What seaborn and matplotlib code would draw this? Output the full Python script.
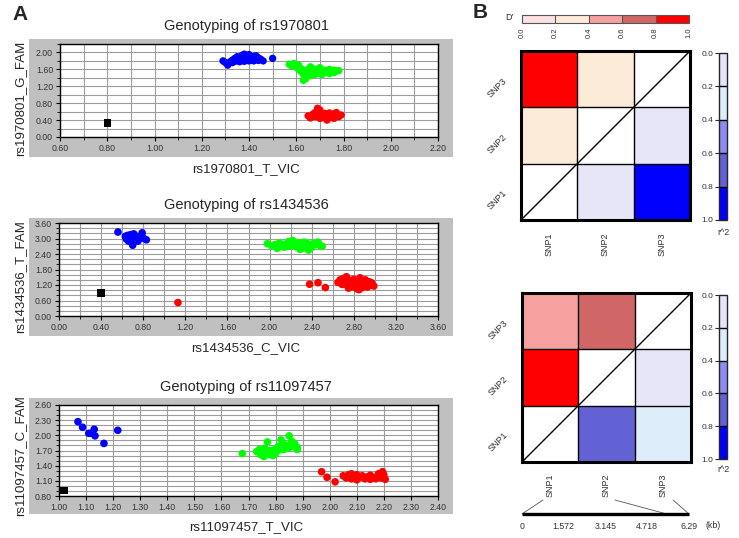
import numpy as np
import pandas as pd
import matplotlib
matplotlib.use("Agg")
import matplotlib.pyplot as plt
import seaborn as sns
from matplotlib.colors import ListedColormap, Normalize
from matplotlib.patches import Rectangle
from matplotlib.ticker import MultipleLocator, FormatStrFormatter
import matplotlib.cm as cm

# ---------------- data: allelic discrimination plots ----------------
# rs1970801
blue1_x = [1.29, 1.30, 1.31, 1.32, 1.33, 1.33, 1.34, 1.34, 1.35, 1.35, 1.36, 1.36, 1.37, 1.37, 1.38, 1.38,
           1.38, 1.39, 1.39, 1.40, 1.40, 1.41, 1.41, 1.42, 1.42, 1.43, 1.43, 1.44, 1.44, 1.45, 1.46, 1.50]
blue1_y = [1.80, 1.76, 1.70, 1.78, 1.82, 1.76, 1.86, 1.79, 1.90, 1.81, 1.85, 1.78, 1.93, 1.82, 1.96, 1.87,
           1.79, 1.92, 1.83, 1.95, 1.80, 1.88, 1.82, 1.91, 1.80, 1.86, 1.92, 1.81, 1.87, 1.84, 1.80, 1.86]
green1_x = [1.57, 1.58, 1.59, 1.60, 1.61, 1.61, 1.62, 1.62, 1.63, 1.63, 1.64, 1.64, 1.65, 1.65, 1.66, 1.66,
            1.67, 1.67, 1.68, 1.68, 1.69, 1.69, 1.70, 1.70, 1.71, 1.71, 1.72, 1.72, 1.73, 1.74, 1.74, 1.75,
            1.76, 1.76, 1.77, 1.78, 1.63, 1.66]
green1_y = [1.72, 1.68, 1.74, 1.65, 1.70, 1.60, 1.62, 1.55, 1.58, 1.48, 1.52, 1.38, 1.60, 1.50, 1.56, 1.45,
            1.62, 1.52, 1.58, 1.48, 1.55, 1.60, 1.50, 1.64, 1.54, 1.48, 1.58, 1.52, 1.55, 1.50, 1.60, 1.54,
            1.52, 1.58, 1.56, 1.57, 1.34, 1.66]
red1_x = [1.65, 1.66, 1.67, 1.68, 1.68, 1.69, 1.69, 1.70, 1.70, 1.71, 1.71, 1.72, 1.72, 1.73, 1.73, 1.74,
          1.74, 1.75, 1.75, 1.76, 1.76, 1.77, 1.77, 1.78, 1.79, 1.70, 1.73]
red1_y = [0.50, 0.45, 0.54, 0.48, 0.58, 0.68, 0.50, 0.60, 0.44, 0.52, 0.46, 0.56, 0.48, 0.53, 0.42, 0.50,
          0.57, 0.46, 0.52, 0.55, 0.44, 0.50, 0.58, 0.48, 0.52, 0.64, 0.40]
ntc1_x = [0.80]
ntc1_y = [0.33]

# rs1434536
blue2_x = [0.56, 0.63, 0.64, 0.65, 0.66, 0.67, 0.68, 0.69, 0.70, 0.70, 0.71, 0.72, 0.74, 0.75, 0.77, 0.79, 0.80, 0.83]
blue2_y = [3.25, 3.08, 2.98, 3.12, 2.90, 3.02, 3.15, 2.85, 3.05, 2.74, 3.18, 2.95, 3.08, 2.90, 3.00, 3.22, 3.02, 2.95]
green2_x = [1.98, 2.02, 2.05, 2.07, 2.09, 2.10, 2.12, 2.14, 2.16, 2.18, 2.19, 2.21, 2.22, 2.24, 2.25, 2.27,
            2.28, 2.30, 2.31, 2.33, 2.34, 2.36, 2.37, 2.38, 2.40, 2.42, 2.44, 2.46, 2.48, 2.50, 2.29, 2.35]
green2_y = [2.80, 2.72, 2.76, 2.62, 2.82, 2.70, 2.78, 2.66, 2.74, 2.88, 2.70, 2.80, 2.92, 2.76, 2.68, 2.84,
            2.72, 2.78, 2.62, 2.86, 2.70, 2.80, 2.55, 2.74, 2.66, 2.82, 2.76, 2.86, 2.72, 2.70, 2.58, 2.64]
red2_x = [1.13, 2.38, 2.46, 2.53, 2.65, 2.67, 2.69, 2.70, 2.72, 2.73, 2.74, 2.76, 2.77, 2.78, 2.80, 2.81,
          2.82, 2.83, 2.84, 2.85, 2.86, 2.87, 2.88, 2.89, 2.90, 2.91, 2.92, 2.93, 2.95, 2.96, 2.97, 2.99, 2.75, 2.85]
red2_y = [0.52, 1.23, 1.29, 1.10, 1.30, 1.40, 1.22, 1.45, 1.32, 1.52, 1.18, 1.38, 1.25, 1.12, 1.42, 1.20,
          1.30, 1.05, 1.15, 1.35, 1.48, 1.22, 1.10, 1.30, 1.18, 1.40, 1.25, 1.12, 1.32, 1.20, 1.28, 1.16, 1.08, 1.02]
ntc2_x = [0.40]
ntc2_y = [0.90]

# rs11097457
blue3_x = [1.07, 1.087, 1.11, 1.12, 1.13, 1.133, 1.166, 1.217]
blue3_y = [2.27, 2.16, 2.04, 2.04, 2.12, 1.99, 1.84, 2.10]
green3_x = [1.677, 1.73, 1.74, 1.745, 1.75, 1.757, 1.76, 1.77, 1.77, 1.78, 1.78, 1.79, 1.80, 1.80, 1.81,
            1.81, 1.82, 1.82, 1.83, 1.83, 1.84, 1.84, 1.85, 1.85, 1.86, 1.86, 1.87, 1.88, 1.88, 1.79]
green3_y = [1.64, 1.68, 1.72, 1.62, 1.66, 1.58, 1.74, 1.87, 1.65, 1.70, 1.62, 1.68, 1.74, 1.64, 1.78,
            1.70, 1.91, 1.75, 1.84, 1.72, 1.80, 1.74, 1.99, 1.76, 1.88, 1.78, 1.84, 1.72, 1.76, 1.60]
red3_x = [1.97, 1.99, 2.02, 2.05, 2.06, 2.07, 2.08, 2.08, 2.09, 2.10, 2.10, 2.11, 2.12, 2.13, 2.14, 2.15,
          2.15, 2.16, 2.17, 2.18, 2.18, 2.19, 2.195, 2.20, 2.205, 2.07]
red3_y = [1.28, 1.17, 1.08, 1.20, 1.16, 1.22, 1.14, 1.24, 1.19, 1.12, 1.22, 1.17, 1.20, 1.14, 1.18, 1.21,
          1.13, 1.17, 1.14, 1.20, 1.24, 1.16, 1.28, 1.22, 1.13, 1.18]
ntc3_x = [1.018]
ntc3_y = [0.905]

# ---------------- data: LD blocks ----------------
snps = ["SNP1", "SNP2", "SNP3"]
pairs = [(1, 2), (1, 3), (2, 3)]
dprime_top = [0.3, 0.9, 0.3]
r2_top = [0.1, 0.9, 0.1]
dprime_bottom = [0.9, 0.5, 0.7]
r2_bottom = [0.7, 0.3, 0.1]
snp_pos_kb = [0.0, 5.45, 6.29]
kb_ticks = [0, 1.572, 3.145, 4.718, 6.29]
kb_labels = ["0", "1.572", "3.145", "4.718", "6.29"]

dprime_colors = ["#fce2e2", "#fdebd9", "#f6a0a0", "#d06666", "#ff0000"]
r2_colors = ["#e6e6f8", "#ddeefa", "#8c8cf4", "#6262d4", "#0000ff"]

# ---------------- figure ----------------
sns.set_style("white")
plt.rcParams["font.family"] = ["Liberation Sans", "DejaVu Sans"]

W, H = 739, 538
fig = plt.figure(figsize=(W / 100, H / 100), dpi=100)


def box(l, t, r, b):
    return [l / W, 1 - b / H, (r - l) / W, (b - t) / H]


def ftext(x, y, s, **kw):
    fig.text(x / W, 1 - y / H, s, **kw)


palette = {"FAM": "#0000ff", "HET": "#00ff00", "VIC": "#ff0000", "NTC": "#000000"}
markers = {"FAM": "o", "HET": "o", "VIC": "o", "NTC": "s"}

scatter_specs = [
    dict(title="Genotyping of rs1970801", xlabel="rs1970801_T_VIC", ylabel="rs1970801_G_FAM",
         groups=[("FAM", blue1_x, blue1_y), ("HET", green1_x, green1_y), ("VIC", red1_x, red1_y),
                 ("NTC", ntc1_x, ntc1_y)],
         xlim=(0.6, 2.2), xmaj=0.2, xmin=0.1, ylim=(0, 2.2), ymaj=0.4, ymin=0.2, ymaxlab=2.0,
         ax=(60, 44, 438, 137), frame=(29, 39, 453, 157), ty=26, xy=169, s=28),
    dict(title="Genotyping of rs1434536", xlabel="rs1434536_C_VIC", ylabel="rs1434536_T_FAM",
         groups=[("FAM", blue2_x, blue2_y), ("HET", green2_x, green2_y), ("VIC", red2_x, red2_y),
                 ("NTC", ntc2_x, ntc2_y)],
         xlim=(0, 3.6), xmaj=0.4, xmin=0.2, ylim=(0, 3.6), ymaj=0.6, ymin=0.2, ymaxlab=3.6,
         ax=(59, 223, 438, 316), frame=(29, 218, 453, 336), ty=205, xy=348, s=30),
    dict(title="Genotyping of rs11097457", xlabel="rs11097457_T_VIC", ylabel="rs11097457_C_FAM",
         groups=[("FAM", blue3_x, blue3_y), ("HET", green3_x, green3_y), ("VIC", red3_x, red3_y),
                 ("NTC", ntc3_x, ntc3_y)],
         xlim=(1.0, 2.4), xmaj=0.1, xmin=0.1, ylim=(0.8, 2.6), ymaj=0.3, ymin=0.1, ymaxlab=2.6,
         ax=(59, 405, 438, 496), frame=(29, 398, 453, 514), ty=387, xy=527, s=30),
]

for spec in scatter_specs:
    l, t, r, b = spec["frame"]
    fig.add_artist(Rectangle((l / W, 1 - b / H), (r - l) / W, (b - t) / H,
                             transform=fig.transFigure, facecolor="#c0c0c0", edgecolor="none", zorder=-5))
    ax = fig.add_axes(box(*spec["ax"]))
    df = pd.concat([pd.DataFrame({"x": xs, "y": ys, "call": c}) for c, xs, ys in spec["groups"]],
                   ignore_index=True)
    sns.scatterplot(data=df, x="x", y="y", hue="call", style="call", palette=palette, markers=markers,
                    s=spec["s"], linewidth=0, legend=False, ax=ax, zorder=3)
    ax.set_facecolor("white")
    ax.set_xlim(*spec["xlim"])
    ax.set_ylim(*spec["ylim"])
    ax.xaxis.set_major_locator(MultipleLocator(spec["xmaj"]))
    ax.xaxis.set_minor_locator(MultipleLocator(spec["xmin"]))
    ax.set_yticks(np.arange(spec["ylim"][0], spec["ymaxlab"] + 1e-6, spec["ymaj"]))
    ax.yaxis.set_minor_locator(MultipleLocator(spec["ymin"]))
    ax.xaxis.set_major_formatter(FormatStrFormatter("%.2f"))
    ax.yaxis.set_major_formatter(FormatStrFormatter("%.2f"))
    ax.set_xlim(*spec["xlim"])
    ax.set_ylim(*spec["ylim"])
    ax.set_axisbelow(True)
    ax.grid(which="both", color="#9c9c9c", linewidth=0.8)
    for sp in ax.spines.values():
        sp.set_visible(True)
        sp.set_color("black")
        sp.set_linewidth(1.0)
    ax.tick_params(which="major", direction="out", length=3, width=0.8, color="black",
                   labelsize=6.3, labelcolor="#333333", pad=2, left=True, bottom=True)
    ax.tick_params(which="minor", direction="out", length=2, width=0.6, color="black",
                   left=True, bottom=True)
    ax.set_xlabel("")
    ax.set_ylabel("")
    cx = (spec["frame"][0] + spec["frame"][2]) / 2 + 5
    ftext(cx, spec["ty"], spec["title"], ha="center", va="center", fontsize=10.5)
    ftext(cx, spec["xy"], spec["xlabel"], ha="center", va="center", fontsize=9.5)
    ftext(20, (spec["frame"][1] + spec["frame"][3]) / 2, spec["ylabel"], ha="center", va="center",
          rotation=90, fontsize=9.5)

ftext(20, 14, "A", ha="center", va="center", fontsize=15, fontweight="bold")
ftext(480, 12, "B", ha="center", va="center", fontsize=15, fontweight="bold")

# ---------------- LD heatmaps ----------------
dcmap = ListedColormap(dprime_colors)
rcmap = ListedColormap(r2_colors)
rows = ["SNP3", "SNP2", "SNP1"]


def ld_frames(dvals, rvals):
    dmat = pd.DataFrame(np.nan, index=rows, columns=snps)
    rmat = pd.DataFrame(np.nan, index=rows, columns=snps)
    for (a, b), dv, rv in zip(pairs, dvals, rvals):
        dmat.loc[f"SNP{b}", f"SNP{a}"] = dv
        rmat.loc[f"SNP{a}", f"SNP{b}"] = rv
    return dmat, rmat


ld_specs = [
    dict(d=dprime_top, r=r2_top, ax=(521, 51, 690, 220), cax=(719, 53, 727, 220), r2y=232, xpad=9),
    dict(d=dprime_bottom, r=r2_bottom, ax=(522, 293, 691, 462), cax=(719, 295, 727, 459), r2y=470, xpad=8),
]

for spec in ld_specs:
    ax = fig.add_axes(box(*spec["ax"]))
    dmat, rmat = ld_frames(spec["d"], spec["r"])
    sns.heatmap(dmat, ax=ax, cmap=dcmap, vmin=0, vmax=1, cbar=False)
    sns.heatmap(rmat, ax=ax, cmap=rcmap, vmin=0, vmax=1, cbar=False)
    ax.set_facecolor("white")
    for k in (1, 2):
        ax.axhline(k, color="black", lw=1.0)
        ax.axvline(k, color="black", lw=1.0)
    ax.plot([0, 3], [3, 0], color="black", lw=1.0)
    for sp in ax.spines.values():
        sp.set_visible(True)
        sp.set_color("black")
        sp.set_linewidth(2.2)
    ax.tick_params(length=0, labelsize=6.5, labelcolor="#333333")
    ax.tick_params(axis="x", pad=spec["xpad"])
    ax.tick_params(axis="y", pad=11)
    ax.set_xticklabels(snps, rotation=90, va="top")
    ax.set_yticklabels(rows, rotation=45, ha="right", va="center", rotation_mode="anchor")
    ax.set_xlabel("")
    ax.set_ylabel("")

    cax = fig.add_axes(box(*spec["cax"]))
    cb = fig.colorbar(cm.ScalarMappable(norm=Normalize(0, 1), cmap=rcmap), cax=cax)
    cb.outline.set_linewidth(1.0)
    cb.set_ticks([0, 0.2, 0.4, 0.6, 0.8, 1.0])
    cb.set_ticklabels(["0.0", "0.2", "0.4", "0.6", "0.8", "1.0"])
    cax.invert_yaxis()
    for edge in (0.2, 0.4, 0.6, 0.8):
        cax.axhline(edge, color="black", lw=1.0)
    cax.yaxis.set_ticks_position("left")
    cax.tick_params(length=3, width=0.8, labelsize=6, labelcolor="#333333", pad=1)
    ftext(723, spec["r2y"], "r^2", ha="center", va="center", fontsize=6.5, color="#333333")

# D' colour key
dax = fig.add_axes(box(522, 15, 689, 23))
cb = fig.colorbar(cm.ScalarMappable(norm=Normalize(0, 1), cmap=dcmap), cax=dax, orientation="horizontal")
cb.outline.set_linewidth(0.8)
cb.outline.set_edgecolor("#555555")
for edge in (0.2, 0.4, 0.6, 0.8):
    dax.axvline(edge, color="#555555", lw=0.8)
cb.set_ticks([0, 0.2, 0.4, 0.6, 0.8, 1.0])
cb.set_ticklabels(["0.0", "0.2", "0.4", "0.6", "0.8", "1.0"])
dax.tick_params(length=0, labelsize=5.5, labelcolor="#333333", labelrotation=90, pad=3)
ftext(510, 17, "D\u2019", ha="center", va="center", fontsize=6.5, color="#333333")

# physical scale with SNP positions
sax = fig.add_axes(box(522, 500, 689, 514))
sax.set_xlim(0, 6.29)
sax.set_ylim(0, 1)
label_anchor_kb = [0.79, 3.50, 5.69]
for start, pos in zip(label_anchor_kb, snp_pos_kb):
    sax.plot([start, pos], [1, 0], color="#555555", lw=0.6, clip_on=False)
sax.plot([0, 6.29], [0, 0], color="black", lw=2.4, clip_on=False, solid_capstyle="butt")
sax.set_xticks(kb_ticks)
sax.set_xticklabels(kb_labels)
sax.set_yticks([])
sax.tick_params(axis="x", length=0, labelsize=6.3, labelcolor="#333333", pad=6)
for sp in sax.spines.values():
    sp.set_visible(False)
sax.set_facecolor("none")
ftext(713, 526, "(kb)", ha="center", va="center", fontsize=6.3, color="#333333")

fig.savefig("out.png", dpi=100)
